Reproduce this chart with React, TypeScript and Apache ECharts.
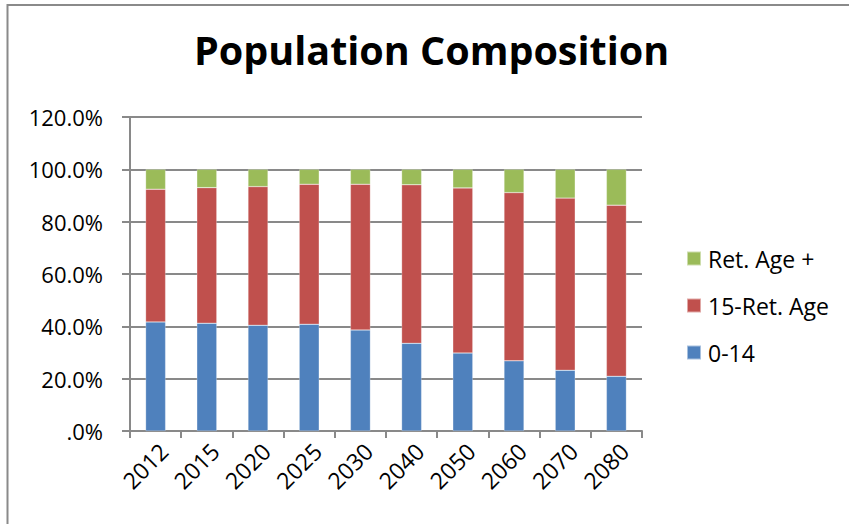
import React, { useEffect, useRef } from "react";
import * as echarts from "echarts";

// Share of population by age group, in percent
const years = ["2012", "2015", "2020", "2025", "2030", "2040", "2050", "2060", "2070", "2080"];
const age0to14 = [41.7, 41.2, 40.4, 40.8, 38.6, 33.5, 29.8, 26.8, 23.2, 20.9];
const age15toRet = [50.7, 51.8, 53.0, 53.5, 55.7, 60.6, 63.1, 64.3, 65.8, 65.4];
const ageRetPlus = [7.6, 7.0, 6.6, 5.7, 5.7, 5.9, 7.1, 8.9, 11.0, 13.7];
const seriesNames = ["0-14", "15-Ret. Age", "Ret. Age +"];
const legendOrder = ["Ret. Age +", "15-Ret. Age", "0-14"];
const colors = ["#4F81BD", "#C0504D", "#9BBB59"];

const FONT = "'Open Sans', 'Noto Sans', sans-serif";
const AXIS_GRAY = "#898989";

export default function App() {
  const ref = useRef<HTMLDivElement>(null);

  useEffect(() => {
    if (!ref.current) return;
    const chart = echarts.init(ref.current, null, { renderer: "svg" });
    const values = [age0to14, age15toRet, ageRetPlus];

    chart.setOption({
      animation: false,
      backgroundColor: "#ffffff",
      textStyle: { fontFamily: FONT },
      title: {
        text: "Population Composition",
        left: 189,
        top: 25,
        textStyle: { fontFamily: FONT, fontSize: 39.5, fontWeight: "bold", color: "#000" },
      },
      graphic: [
        {
          type: "rect",
          shape: { x: 7.5, y: 5, width: 1000, height: 700 },
          style: { fill: "none", stroke: "#8a8a8a", lineWidth: 2 },
          silent: true,
        },
      ],
      legend: {
        orient: "vertical",
        left: 686,
        top: 247,
        padding: 0,
        itemWidth: 14,
        itemHeight: 14,
        itemGap: 24,
        icon: "rect",
        data: legendOrder,
        textStyle: { fontFamily: FONT, fontSize: 23, color: "#000", padding: [0, 0, 0, 2] },
      },
      grid: { left: 130, right: 207, top: 117, bottom: 93 },
      xAxis: {
        type: "category",
        data: years,
        axisLine: { lineStyle: { color: AXIS_GRAY, width: 2 } },
        axisTick: { show: true, length: 7, alignWithLabel: false, lineStyle: { color: AXIS_GRAY, width: 2 } },
        axisLabel: {
          rotate: 45,
          verticalAlign: "top",
          fontFamily: FONT,
          fontSize: 23,
          color: "#000",
          margin: 8,
        },
      },
      yAxis: {
        type: "value",
        min: 0,
        max: 120,
        interval: 20,
        axisLine: { show: true, lineStyle: { color: AXIS_GRAY, width: 2 } },
        axisTick: { show: true, length: 8, lineStyle: { color: AXIS_GRAY, width: 2 } },
        splitLine: { show: true, lineStyle: { color: AXIS_GRAY, width: 2 } },
        axisLabel: {
          fontFamily: FONT,
          fontSize: 22,
          color: "#000",
          margin: 27,
          formatter: (v: number) => (v === 0 ? ".0%" : v.toFixed(1) + "%"),
        },
      },
      series: seriesNames.map((name, i) => ({
        name,
        type: "bar",
        stack: "total",
        barWidth: 20,
        data: values[i],
        itemStyle: { color: colors[i], borderColor: "rgba(255,255,255,0.5)", borderWidth: 0.5 },
      })),
    });

    return () => chart.dispose();
  }, []);

  return <div ref={ref} style={{ width: 849, height: 524, position: "absolute", left: 0, top: 0 }} />;
}
